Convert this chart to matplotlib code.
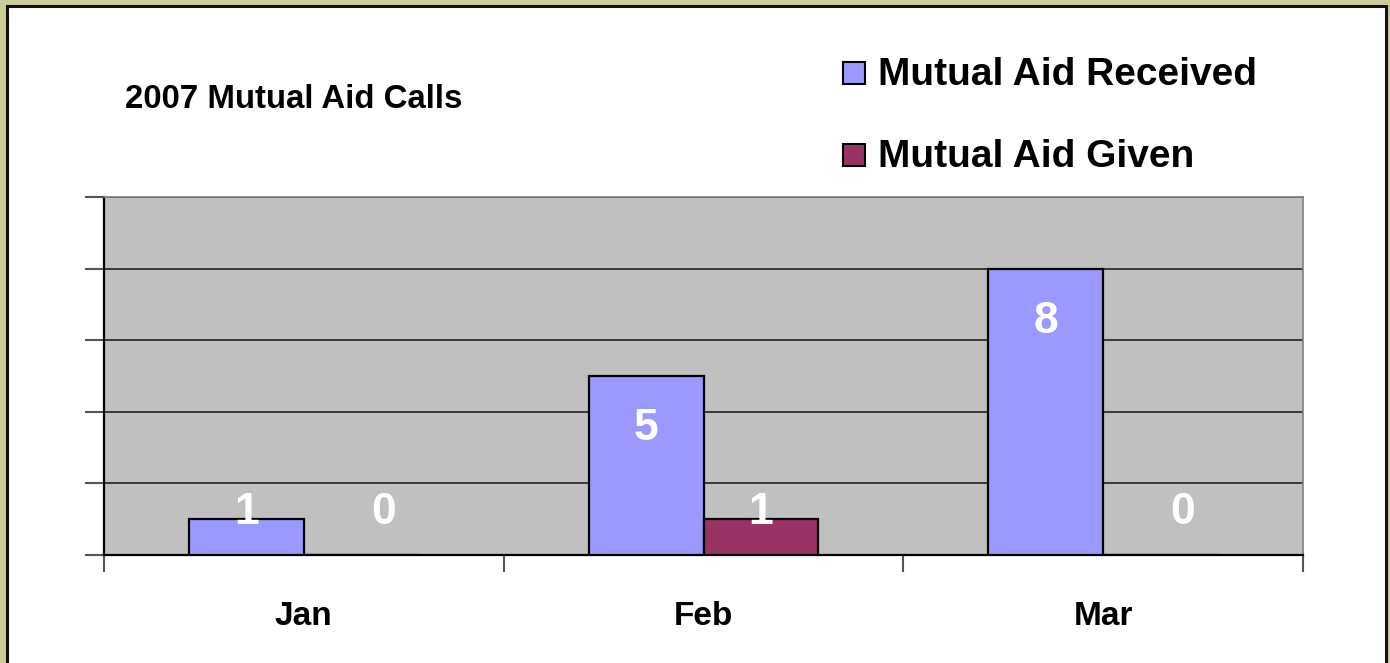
import matplotlib
matplotlib.use("Agg")
import matplotlib.pyplot as plt
import numpy as np
from matplotlib.patches import Rectangle

# ---------------- data ----------------
months = ["Jan", "Feb", "Mar"]
received = [1, 5, 8]
given = [0, 1, 0]
series_names = ["Mutual Aid Received", "Mutual Aid Given"]
series_colors = ["#9999FF", "#993366"]
title = "2007 Mutual Aid Calls"

plt.rcParams["font.family"] = ["Liberation Sans", "DejaVu Sans"]
plt.rcParams["font.weight"] = "bold"

fig = plt.figure(figsize=(13.9, 6.63), dpi=100)
fig.patch.set_facecolor("#CCCC99")

# white frame of the slide
frame = Rectangle((7 / 1390, -0.01), (1386 - 7) / 1390, 1 - 6 / 663 + 0.01,
                  transform=fig.transFigure, facecolor="white",
                  edgecolor="#111111", linewidth=2.2, zorder=-5)
fig.patches.append(frame)

ax = fig.add_axes([104 / 1390, 1 - 555 / 663, (1303 - 104) / 1390, (555 - 197) / 663])
ax.set_zorder(5)
ax.set_facecolor("#C0C0C0")

x = np.arange(len(months))
w = 0.2875
bars_r = ax.bar(x - w / 2, received, w, color=series_colors[0], edgecolor="black",
                linewidth=1.6, zorder=3)
bars_g = ax.bar(x + w / 2, given, w, color=series_colors[1], edgecolor="black",
                linewidth=1.6, zorder=3)

ax.set_xlim(-0.5, 2.5)
ax.set_ylim(0, 10)
ax.set_yticks([0, 2, 4, 6, 8, 10])
ax.set_yticklabels([])
ax.yaxis.grid(True, color="#222222", linewidth=1.2, zorder=1)
ax.set_axisbelow(True)
ax.tick_params(axis="y", length=14, width=1.5, color="#555555", direction="out")

# category labels at centres, tick marks at boundaries
ax.set_xticks(x)
ax.set_xticklabels(months, fontsize=24, fontweight="bold")
ax.tick_params(axis="x", which="major", length=0, pad=33)
ax.set_xticks([-0.5, 0.5, 1.5, 2.5], minor=True)
ax.tick_params(axis="x", which="minor", length=12, width=1.5, color="#555555")

for s in ["left", "bottom"]:
    ax.spines[s].set_color("black")
    ax.spines[s].set_linewidth(1.6)
ax.spines["right"].set_color("#808080")
ax.spines["top"].set_color("#808080")
ax.spines["right"].set_linewidth(1.2)
ax.spines["top"].set_linewidth(1.2)

# value labels (white, inside end; clamped above baseline)
for bars, vals in [(bars_r, received), (bars_g, given)]:
    for b, v in zip(bars, vals):
        ypos = max(v, 2.65) - 1.47
        dx = 16 if v == 0 else 0
        ax.annotate(str(v), (b.get_x() + b.get_width() / 2, ypos),
                    xytext=(dx, 0), textcoords="offset points",
                    ha="center", va="center", color="white",
                    fontsize=32, fontweight="bold", zorder=5)

fig.text(125 / 1390, 1 - 99 / 663, title, fontsize=23.8, fontweight="bold",
         ha="left", va="center")

# legend
leg_y = [75, 157]
for name, col, yy in zip(series_names, series_colors, leg_y):
    fig.patches.append(Rectangle((843 / 1390, 1 - (yy + 9) / 663), 22 / 1390, 22 / 663,
                                 transform=fig.transFigure, facecolor=col,
                                 edgecolor="black", linewidth=1.5, zorder=3))
    fig.text(878 / 1390, 1 - yy / 663, name, fontsize=28, fontweight="bold",
             ha="left", va="center")

fig.savefig("out.png", dpi=100, facecolor=fig.get_facecolor())
